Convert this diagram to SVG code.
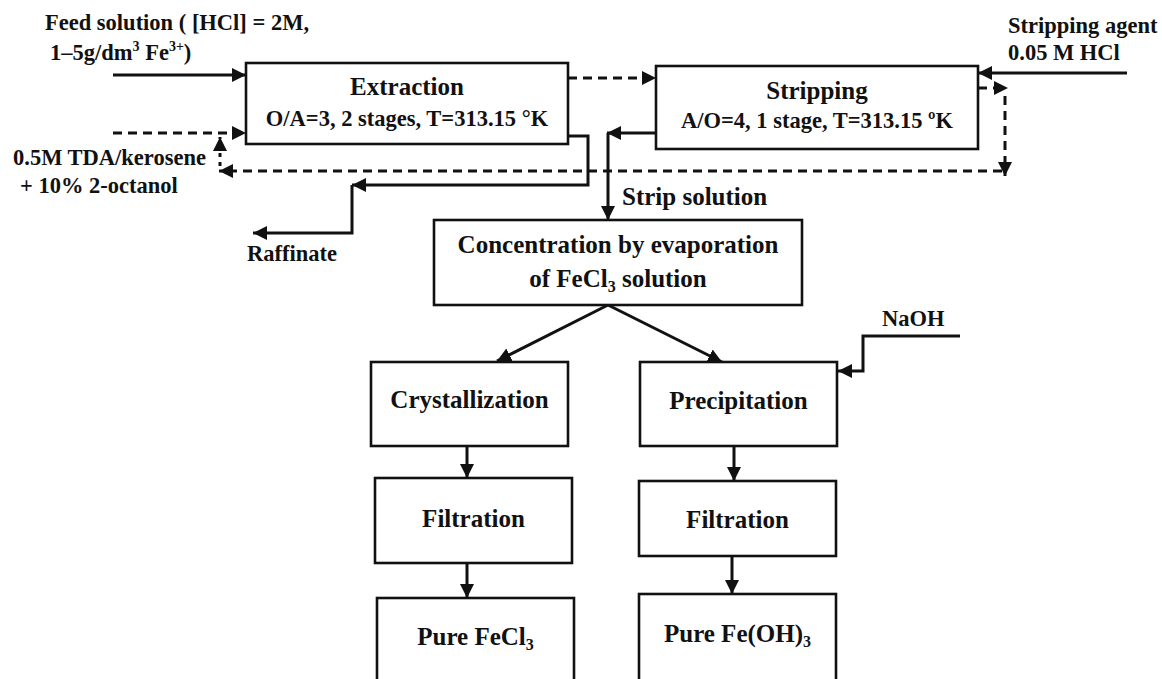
<svg xmlns="http://www.w3.org/2000/svg" width="1162" height="679" viewBox="0 0 1162 679">
<style>
  text { font-family: "Liberation Serif", "Times New Roman", serif; font-weight: bold; fill: #111; }
  .t { font-size: 25px; }
  .s { font-size: 22.5px; }
  .box { fill: #fff; stroke: #111; stroke-width: 2.6; }
  .ln { fill: none; stroke: #111; stroke-width: 3; }
  .dl { fill: none; stroke: #111; stroke-width: 3; stroke-dasharray: 9 6; }
</style>
<defs>
  <marker id="ah" viewBox="0 0 14 14" refX="14" refY="7" markerWidth="14" markerHeight="14" markerUnits="userSpaceOnUse" orient="auto">
    <path d="M0,0 L14,7 L0,14 z" fill="#111"/>
  </marker>
</defs>
<rect width="1162" height="679" fill="#fff"/>

<g id="connectors">
  <path class="ln" d="M113,75 H246" marker-end="url(#ah)"/>
  <path class="dl" d="M113,133 H246" marker-end="url(#ah)"/>
  <path class="dl" d="M568,78 H656" marker-end="url(#ah)"/>
  <path class="ln" d="M1127,73 H978" marker-end="url(#ah)"/>
  <path class="dl" d="M978,88 H1008" marker-end="url(#ah)"/>
  <path class="dl" d="M1005,96 V176" marker-end="url(#ah)"/>
  <path class="dl" d="M1002,171 H219" marker-end="url(#ah)"/>
  <path class="dl" d="M220,166 V137" marker-end="url(#ah)" style="stroke-dasharray:4 5"/>
  <path class="ln" d="M568,136 H588 V185 H352" marker-end="url(#ah)"/>
  <path class="ln" d="M352,185 V233 H253" marker-end="url(#ah)"/>
  <path class="ln" d="M656,133 H607" marker-end="url(#ah)"/>
  <path class="ln" d="M608,133 V220" marker-end="url(#ah)"/>
  <path class="ln" d="M608,305 L497,361" marker-end="url(#ah)"/>
  <path class="ln" d="M608,305 L722,362" marker-end="url(#ah)"/>
  <path class="ln" d="M960,336 H863 V371 H838" marker-end="url(#ah)"/>
  <path class="ln" d="M467,446 V478" marker-end="url(#ah)"/>
  <path class="ln" d="M467,563 V598" marker-end="url(#ah)"/>
  <path class="ln" d="M734,446 V481" marker-end="url(#ah)"/>
  <path class="ln" d="M732,556 V594" marker-end="url(#ah)"/>
</g>

<g id="feed">
  <text class="s" x="45" y="30">Feed solution ( [HCl] = 2M,</text>
  <text class="s" x="50" y="60">1–5g/dm<tspan font-size="14" dy="-9">3</tspan><tspan dy="9"> Fe</tspan><tspan font-size="14" dy="-9">3+</tspan><tspan dy="9">)</tspan></text>
</g>

<g id="organic">
  <text class="s" x="13" y="165">0.5M TDA/kerosene</text>
  <text class="s" x="20" y="193">+ 10% 2-octanol</text>
</g>

<g id="stripping-agent">
  <text class="s" x="1008" y="33">Stripping agent</text>
  <text class="s" x="1008" y="60">0.05 M HCl</text>
</g>

<g id="extraction">
  <rect class="box" x="246" y="63" width="322" height="81"/>
  <text class="t" x="407" y="95" text-anchor="middle">Extraction</text>
  <text class="s" x="407" y="126" text-anchor="middle">O/A=3, 2 stages, T=313.15 °K</text>
</g>

<g id="stripping">
  <rect class="box" x="656" y="66" width="322" height="83"/>
  <text class="t" x="817" y="99" text-anchor="middle">Stripping</text>
  <text class="s" x="817" y="128" text-anchor="middle">A/O=4, 1 stage, T=313.15 ºK</text>
</g>

<g id="raffinate">
  <text class="s" x="247" y="261">Raffinate</text>
</g>

<g id="strip-solution">
  <text class="t" x="622" y="205">Strip solution</text>
</g>

<g id="concentration">
  <rect class="box" x="434" y="220" width="368" height="85"/>
  <text class="t" x="618" y="253" text-anchor="middle">Concentration by evaporation</text>
  <text class="t" x="618" y="287" text-anchor="middle">of FeCl<tspan font-size="16" dy="5">3</tspan><tspan dy="-5"> solution</tspan></text>
</g>

<g id="naoh">
  <text class="s" x="882" y="326">NaOH</text>
</g>

<g id="crystallization">
  <rect class="box" x="371" y="362" width="197" height="84"/>
  <text class="t" x="469.5" y="408" text-anchor="middle">Crystallization</text>
</g>

<g id="filtration-left">
  <rect class="box" x="375" y="478" width="197" height="85"/>
  <text class="t" x="473.5" y="527" text-anchor="middle">Filtration</text>
</g>

<g id="pure-fecl3">
  <rect class="box" x="377" y="598" width="197" height="110"/>
  <text class="t" x="475.5" y="645" text-anchor="middle">Pure FeCl<tspan font-size="16" dy="5">3</tspan></text>
</g>

<g id="precipitation">
  <rect class="box" x="640" y="362" width="197" height="84"/>
  <text class="t" x="738.5" y="409" text-anchor="middle">Precipitation</text>
</g>

<g id="filtration-right">
  <rect class="box" x="639" y="481" width="197" height="75"/>
  <text class="t" x="737.5" y="528" text-anchor="middle">Filtration</text>
</g>

<g id="pure-feoh3">
  <rect class="box" x="639" y="594" width="197" height="110"/>
  <text class="t" x="737.5" y="642" text-anchor="middle">Pure Fe(OH)<tspan font-size="16" dy="5">3</tspan></text>
</g>
</svg>
